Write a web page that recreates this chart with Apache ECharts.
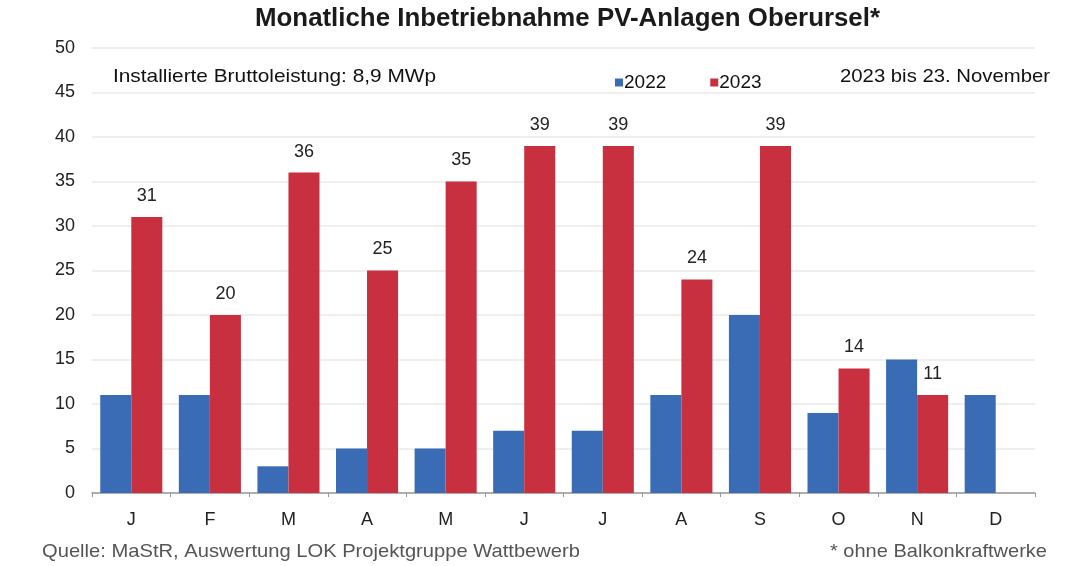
<!DOCTYPE html>
<html><head><meta charset="utf-8">
<script src="https://cdn.jsdelivr.net/npm/echarts@6/dist/echarts.min.js"></script>
<style>html,body{margin:0;padding:0;background:#fff}#c{width:1071px;height:566px}</style>
</head><body><div id="c"></div>
<script>
const categories = ['J','F','M','A','M','J','J','A','S','O','N','D'];
const values2022 = [11,11,3,5,5,7,7,11,20,9,15,11];
const values2023 = [31,20,36,25,35,39,39,24,39,14,11,null];
const yTicks = {min:0, max:50, interval:5};

const font = 'Liberation Sans, Arial, sans-serif';
const ctx = document.createElement('canvas').getContext('2d');
function fitText(text, fontStr, x0, x1, yMid, align, fill){
  ctx.font = fontStr;
  const w = ctx.measureText(text).width;
  const s = (x1 - x0) / w;
  const x = align === 'left' ? x0 : align === 'right' ? x1 : (x0 + x1) / 2;
  return {type:'text', x:x, y:yMid, scaleX:s, originX:0, originY:0,
    style:{text:text, font:fontStr, fill:fill, textAlign:align, textVerticalAlign:'middle'}};
}

const chart = echarts.init(document.getElementById('c'));
chart.setOption({
  animation:false,
  backgroundColor:'#fff',
  graphic:[
    fitText('Monatliche Inbetriebnahme PV-Anlagen Oberursel*', 'bold 25px '+font, 255, 880, 19, 'center', '#1a1a1a'),
    fitText('Installierte Bruttoleistung: 8,9 MWp', '19px '+font, 113, 436, 77, 'left', '#111'),
    fitText('2023 bis 23. November', '19px '+font, 840, 1050, 77, 'right', '#111'),
    fitText('Quelle: MaStR, Auswertung LOK Projektgruppe Wattbewerb', '19px '+font, 42, 580, 552, 'left', '#555'),
    fitText('* ohne Balkonkraftwerke', '19px '+font, 830, 1047, 552, 'right', '#555')
  ],
  legend:{left:610, top:68, itemWidth:8, itemHeight:8, itemGap:44, icon:'rect',
    textStyle:{fontFamily:font, fontSize:19, color:'#111', padding:[0,0,0,-4]}},
  grid:{left:92, right:36, top:48, bottom:73},
  xAxis:{type:'category', data:categories,
    axisLine:{lineStyle:{color:'#999', width:1.5}},
    axisTick:{show:true, length:4, lineStyle:{color:'#999'}},
    axisLabel:{fontFamily:font, fontSize:18, color:'#222', margin:18}},
  yAxis:{type:'value', min:yTicks.min, max:yTicks.max, interval:yTicks.interval,
    axisLine:{show:false}, axisTick:{show:false},
    splitLine:{lineStyle:{color:'#efefef', width:2}},
    axisLabel:{fontFamily:font, fontSize:18, color:'#222', margin:17}},
  series:[
    {name:'2022', type:'bar', data:values2022, barGap:'0%', barCategoryGap:'21%',
      itemStyle:{color:'#3a6cb6'}},
    {name:'2023', type:'bar', data:values2023, barGap:'0%', barCategoryGap:'21%',
      itemStyle:{color:'#c8303f'},
      label:{show:true, position:'top', distance:12, fontFamily:font, fontSize:18, color:'#222'}}
  ]
});
</script></body></html>
